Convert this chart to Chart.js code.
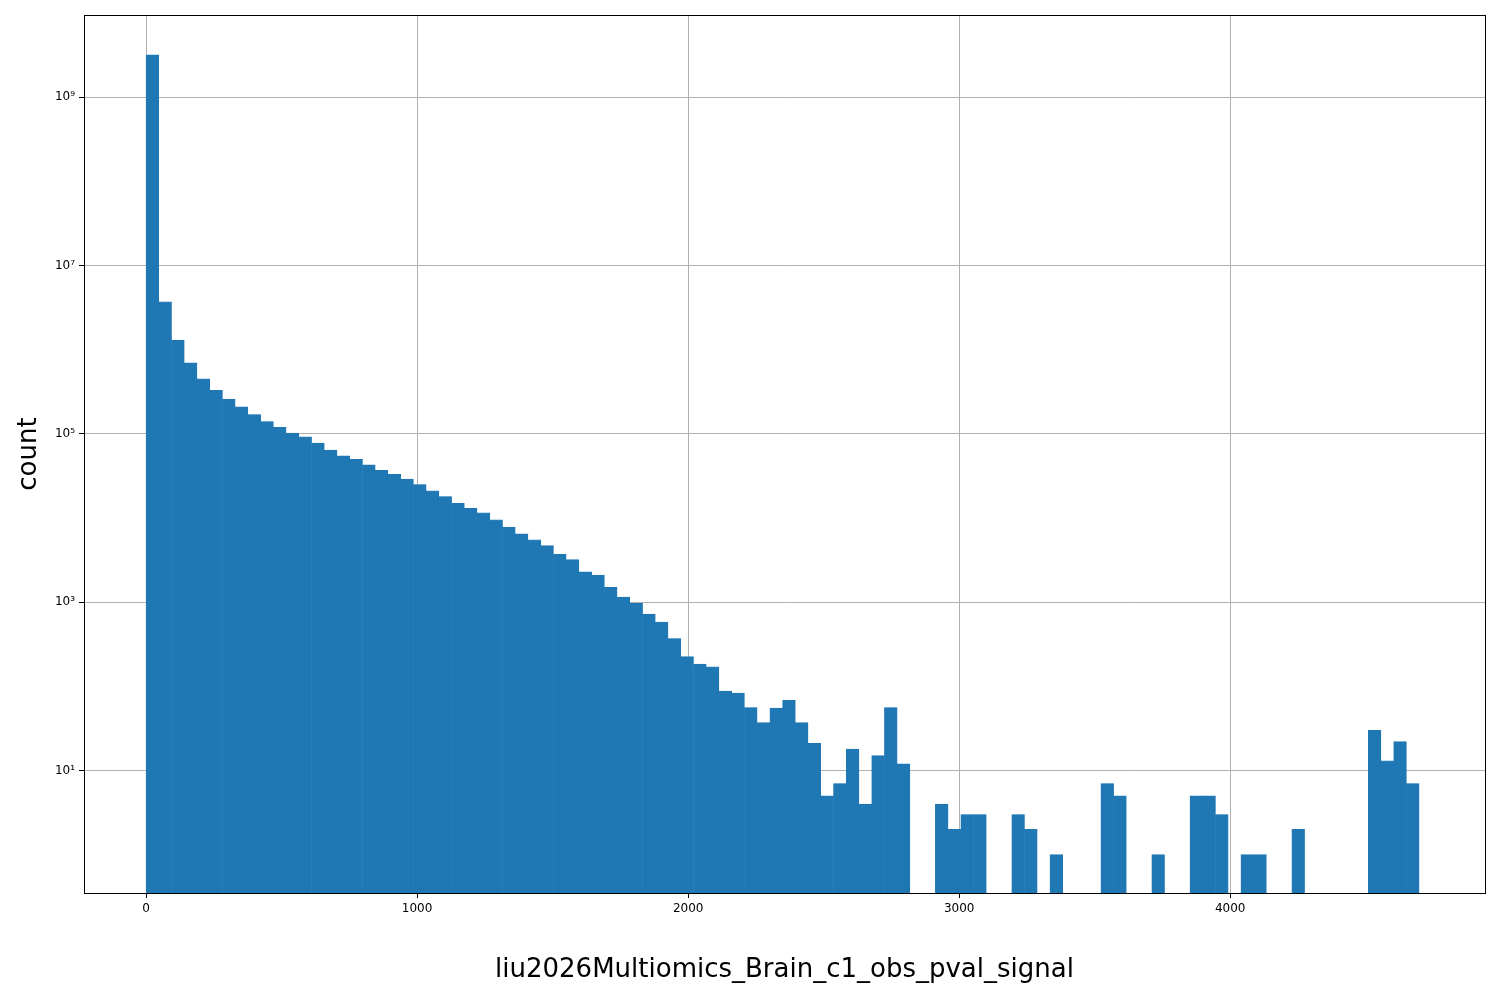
<!DOCTYPE html>
<html><head><meta charset="utf-8">
<script src="https://cdn.jsdelivr.net/npm/chart.js@4/dist/chart.umd.min.js"></script>
<style>html,body{margin:0;padding:0;background:#fff}#w{width:1500px;height:1000px}</style>
</head><body><div id="w"><canvas id="c"></canvas></div>
<script>
const binStart = 0, binWidth = 46.97, binCount = 100;
const counts = [3.2e9,3.7e6,1.3e6,7e5,4.5e5,3.3e5,2.6e5,2.1e5,1.7e5,1.4e5,
1.2e5,1.02e5,9.2e4,7.8e4,6.4e4,5.5e4,5e4,4.3e4,3.7e4,3.3e4,
2.9e4,2.5e4,2.1e4,1.8e4,1.5e4,1.3e4,1.15e4,9.5e3,7.8e3,6.5e3,
5.5e3,4.7e3,3.7e3,3.2e3,2.3e3,2.1e3,1.5e3,1.15e3,970,720,
580,370,225,184,170,88,83,56,37,55,
68,37,21,5,7,18,4,15,56,12,
0,0,4,2,3,3,0,0,3,2,
0,1,0,0,0,7,5,0,0,1,
0,0,5,5,3,0,1,1,0,0,
2,0,0,0,0,0,30,13,22,7];
const xTicks = [0,1000,2000,3000,4000];
const yTicks = [1e1,1e3,1e5,1e7,1e9];
const yTickLabels = ['10¹','10³','10⁵','10⁷','10⁹'];
const xTitle = 'liu2026Multiomics_Brain_c1_obs_pval_signal';
const yTitle = 'count';

const data = counts.map((v,i)=>({x: binStart + binWidth*(i+0.5), y: v>0 ? v : null}));
const frame = {id:'frame', afterDraw(ch){const a=ch.chartArea,c=ch.ctx;c.save();c.strokeStyle='#000';c.lineWidth=1;c.strokeRect(a.left+0.5,a.top+0.5,a.right-a.left,a.bottom-a.top);c.restore();}};
new Chart(document.getElementById('c'),{
  type:'bar',
  data:{datasets:[{data, backgroundColor:'#1f77b4', borderColor:'#1f77b4', borderWidth:0.6, barPercentage:1, categoryPercentage:1, grouped:false}]},
  options:{responsive:true, maintainAspectRatio:false, animation:false,
    layout:{padding:{top:15,right:15,left:0,bottom:0}},
    plugins:{legend:{display:false},tooltip:{enabled:false}},
    scales:{
      x:{type:'linear', min:-229, max:4940, offset:false,
        afterBuildTicks(s){s.ticks=xTicks.map(v=>({value:v}));},
        afterFit(s){s.height=107;},
        grid:{offset:false, color:'#b0b0b0', drawTicks:true, tickLength:5, tickColor:'#000'},
        border:{display:false},
        ticks:{autoSkip:false, color:'#000', font:{family:'DejaVu Sans', size:12}, maxRotation:0, padding:4, callback:(v)=>String(v)},
        title:{display:true, text:xTitle, color:'#000', font:{family:'DejaVu Sans', size:26}, padding:{top:16,bottom:14}}},
      y:{type:'logarithmic', min:0.35, max:9.5e9,
        afterBuildTicks(s){s.ticks=yTicks.map(v=>({value:v}));},
        afterFit(s){s.width=84;},
        grid:{color:'#b0b0b0', tickLength:5, tickColor:'#000'},
        border:{display:false},
        ticks:{autoSkip:false, color:'#000', font:{family:'DejaVu Sans', size:12}, padding:4,
          callback:(v)=>{const i=yTicks.indexOf(v);return i>=0?yTickLabels[i]:'';}},
        title:{display:true, text:yTitle, color:'#000', font:{family:'DejaVu Sans', size:26}, padding:{top:14,bottom:0}}}
    }},
  plugins:[frame]
});
</script></body></html>
